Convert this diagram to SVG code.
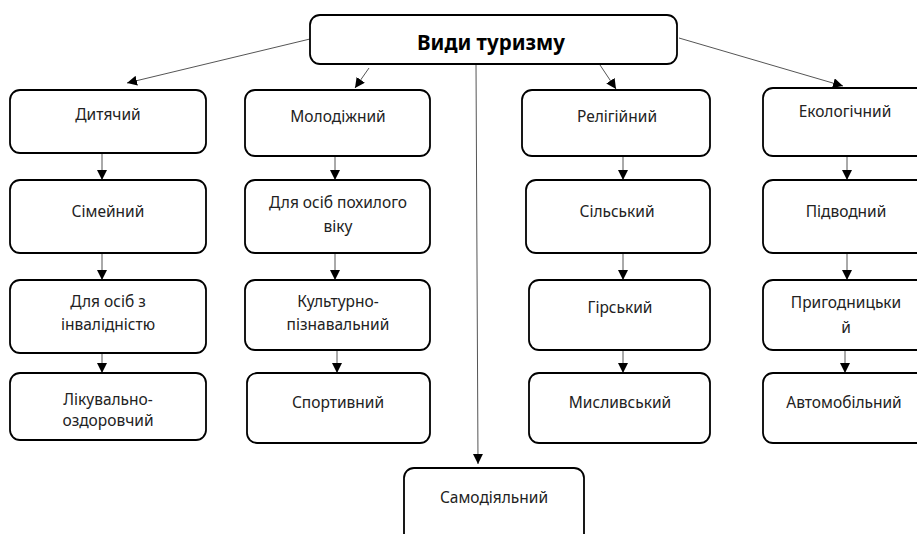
<svg xmlns="http://www.w3.org/2000/svg" width="917" height="534" viewBox="0 0 917 534">
<style>
.box{fill:#fff;stroke:#000;stroke-width:1.8}
.t{font-family:"Noto Sans","Open Sans",sans-serif;font-size:15.5px;fill:#222;text-anchor:middle}
.b{font-family:"Noto Sans","Open Sans",sans-serif;font-size:20.5px;font-weight:bold;fill:#000;text-anchor:middle}
.c{stroke:#555;stroke-width:1;fill:none}
</style>
<defs>
<marker id="ah" viewBox="0 0 10 10" refX="10" refY="5" markerWidth="10" markerHeight="10" markerUnits="userSpaceOnUse" orient="auto">
<path d="M0,0 L10,5 L0,10 z" fill="#000"/>
</marker>
</defs>
<rect width="917" height="534" fill="#fff"/>
<g id="connectors">
<line class="c" x1="310" y1="39" x2="127" y2="83" marker-end="url(#ah)"/>
<line class="c" x1="369" y1="68" x2="355" y2="88" marker-end="url(#ah)"/>
<line class="c" x1="600" y1="65" x2="616" y2="89" marker-end="url(#ah)"/>
<line class="c" x1="679" y1="38" x2="843" y2="86" marker-end="url(#ah)"/>
<line class="c" x1="476" y1="64" x2="478" y2="464" marker-end="url(#ah)"/>
<line class="c" x1="102" y1="153" x2="102" y2="180" marker-end="url(#ah)"/>
<line class="c" x1="102" y1="253" x2="102" y2="280" marker-end="url(#ah)"/>
<line class="c" x1="102" y1="353" x2="102" y2="373" marker-end="url(#ah)"/>
<line class="c" x1="335" y1="156" x2="335" y2="180" marker-end="url(#ah)"/>
<line class="c" x1="335" y1="253" x2="335" y2="280" marker-end="url(#ah)"/>
<line class="c" x1="337" y1="350" x2="337" y2="373" marker-end="url(#ah)"/>
<line class="c" x1="623" y1="156" x2="623" y2="180" marker-end="url(#ah)"/>
<line class="c" x1="623" y1="253" x2="623" y2="280" marker-end="url(#ah)"/>
<line class="c" x1="623" y1="350" x2="623" y2="373" marker-end="url(#ah)"/>
<line class="c" x1="847" y1="156" x2="847" y2="180" marker-end="url(#ah)"/>
<line class="c" x1="847" y1="253" x2="847" y2="280" marker-end="url(#ah)"/>
<line class="c" x1="845" y1="350" x2="845" y2="373" marker-end="url(#ah)"/>
</g>
<g id="root"><rect class="box" x="310" y="15" width="367" height="49" rx="10"/><text class="b" x="491" y="50">Види туризму</text></g>
<g id="dytiachyi"><rect class="box" x="10" y="90" width="196" height="63" rx="10"/><text class="t" x="108" y="120">Дитячий</text></g>
<g id="simeinyi"><rect class="box" x="10" y="180" width="196" height="73" rx="10"/><text class="t" x="108" y="217">Сімейний</text></g>
<g id="invalid"><rect class="box" x="10" y="280" width="196" height="73" rx="10"/><text class="t" x="108" y="307">Для осіб з</text><text class="t" x="108" y="330">інвалідністю</text></g>
<g id="likuvalno"><rect class="box" x="10" y="373" width="196" height="67" rx="10"/><text class="t" x="108" y="405">Лікувально-</text><text class="t" x="108" y="426">оздоровчий</text></g>
<g id="molodizhnyi"><rect class="box" x="245" y="90" width="185" height="66" rx="10"/><text class="t" x="338" y="122">Молодіжний</text></g>
<g id="pokhylyi"><rect class="box" x="245" y="180" width="185" height="73" rx="10"/><text class="t" x="338" y="208">Для осіб похилого</text><text class="t" x="338" y="232">віку</text></g>
<g id="kulturno"><rect class="box" x="245" y="280" width="185" height="70" rx="10"/><text class="t" x="338" y="307">Культурно-</text><text class="t" x="338" y="330">пізнавальний</text></g>
<g id="sportyvnyi"><rect class="box" x="247" y="373" width="183" height="70" rx="10"/><text class="t" x="338" y="408">Спортивний</text></g>
<g id="relihiinyi"><rect class="box" x="522" y="90" width="188" height="66" rx="10"/><text class="t" x="617" y="122">Релігійний</text></g>
<g id="silskyi"><rect class="box" x="526" y="180" width="184" height="73" rx="10"/><text class="t" x="617" y="217">Сільський</text></g>
<g id="hirskyi"><rect class="box" x="529" y="280" width="181" height="70" rx="10"/><text class="t" x="620" y="313">Гірський</text></g>
<g id="myslyvskyi"><rect class="box" x="529" y="373" width="181" height="70" rx="10"/><text class="t" x="620" y="408">Мисливський</text></g>
<g id="ekolohichnyi"><rect class="box" x="763" y="88" width="170" height="68" rx="10"/><text class="t" x="845" y="117">Екологічний</text></g>
<g id="pidvodnyi"><rect class="box" x="763" y="180" width="170" height="73" rx="10"/><text class="t" x="846" y="217">Підводний</text></g>
<g id="pryhodnytskyi"><rect class="box" x="763" y="280" width="170" height="70" rx="10"/><text class="t" x="846" y="308">Пригодницьки</text><text class="t" x="846" y="333">й</text></g>
<g id="avtomobilnyi"><rect class="box" x="763" y="373" width="170" height="70" rx="10"/><text class="t" x="844" y="408">Автомобільний</text></g>
<g id="samodiialnyi"><rect class="box" x="404" y="468" width="180" height="80" rx="10"/><text class="t" x="494" y="503">Самодіяльний</text></g>
</svg>
